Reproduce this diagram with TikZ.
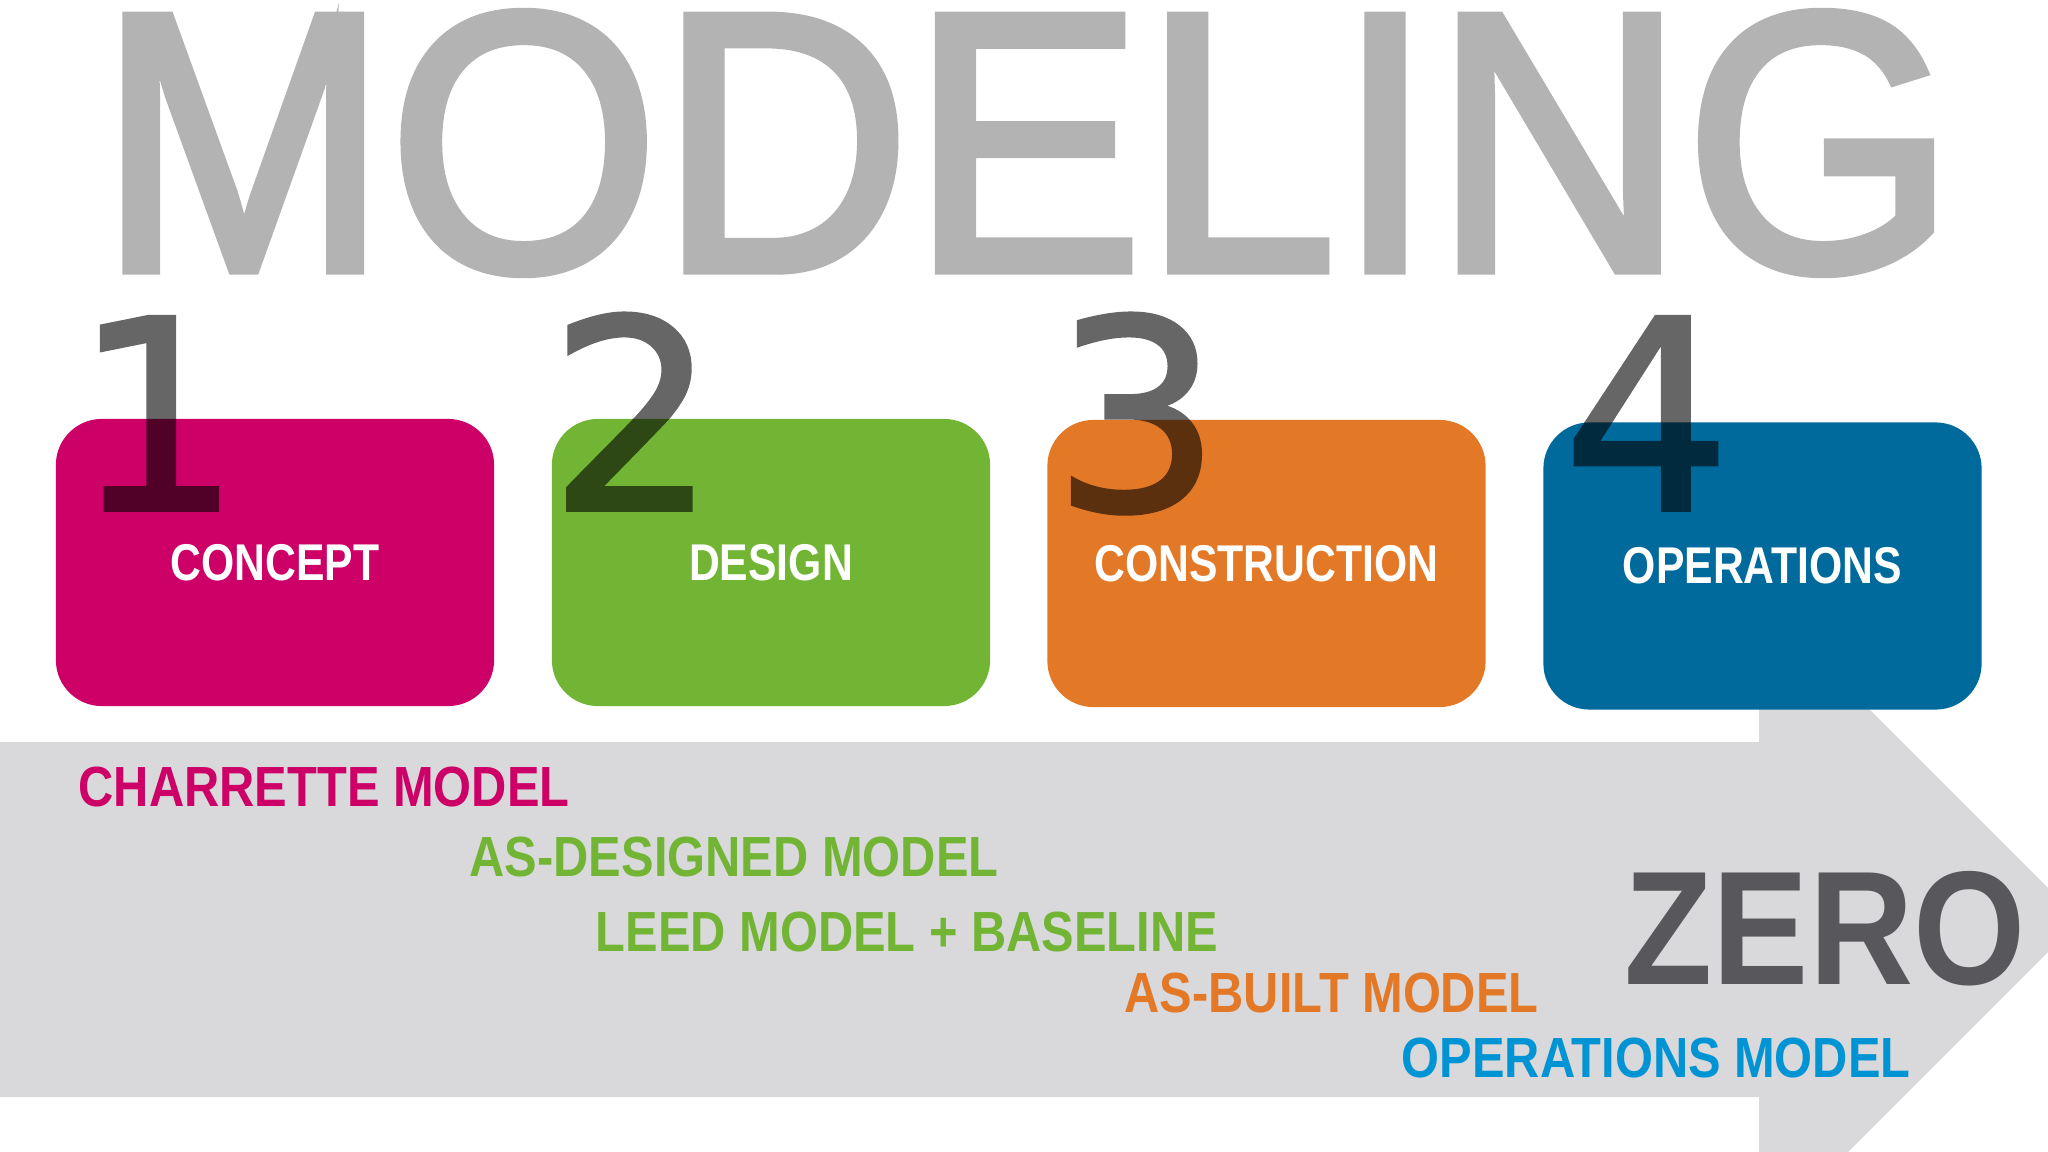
\documentclass[tikz,border=0pt]{standalone}
\usepackage{fontspec}
\setmainfont{Liberation Sans}
\newfontfamily\titlefont[FakeBold=2.5]{Liberation Sans}
\newfontfamily\digitfont[FakeBold=1.5]{DejaVu Sans}
\usepackage{graphicx}
\usepackage{tikz}

\definecolor{titlegrey}{HTML}{B3B3B3}
\definecolor{arrowgrey}{HTML}{D9D9DB}
\definecolor{zerogrey}{HTML}{58575B}
\definecolor{conceptcol}{HTML}{CC0066}
\definecolor{designcol}{HTML}{72B535}
\definecolor{buildcol}{HTML}{E37826}
\definecolor{operatecol}{HTML}{006A9C}
\definecolor{modelblue}{HTML}{0094D4}

\tikzset{
  stage/.style={rounded corners=0.46cm, minimum width=4.38cm, minimum height=2.87cm,
    inner sep=0pt, text=white, font=\bfseries\fontsize{14.7}{16}\selectfont},
  phase/.style={anchor=base, inner sep=0pt, text=black,
    font=\digitfont\fontsize{75.3}{80}\selectfont},
  model/.style={anchor=base west, inner sep=0pt, font=\bfseries\fontsize{16.1}{18}\selectfont},
}
\newcommand{\narrow}[2]{\scalebox{#1}[1]{#2}}

\begin{document}
\begin{tikzpicture}[x=0.01cm,y=-0.01cm]
  \useasboundingbox (0,0) rectangle (2048,1152);
  \clip (0,0) rectangle (2048,1152);
  \fill[white] (0,0) rectangle (2048,1152);

  % the big arrow
  \fill[arrowgrey] (0,742) -- (1759,742) -- (1759,599) -- (2080,920)
    -- (1759,1241) -- (1759,1097) -- (0,1097) -- cycle;

  \node[anchor=base, inner sep=0pt, text=titlegrey, font=\titlefont\fontsize{104.9}{110}\selectfont]
    (title) at (1027,270) {\narrow{0.944}{MODELING}};

  \node[stage, fill=conceptcol] (concept) at (275,562.5) {\narrow{0.826}{CONCEPT}};
  \node[stage, fill=designcol] (design) at (771,562.5) {\narrow{0.826}{DESIGN}};
  \node[stage, fill=buildcol] (construction) at (1266.5,563.5) {\narrow{0.826}{CONSTRUCTION}};
  \node[stage, fill=operatecol] (operations) at (1762.5,566) {\narrow{0.826}{OPERATIONS}};

  \begin{scope}[transparency group, opacity=0.6]
    \node[phase] (one) at (157,510) {1};
    \node[phase] (two) at (633,510) {2};
    \node[phase] (three) at (1137,510) {3};
    \node[phase] (four) at (1647,510) {4};
  \end{scope}

  \node[model, text=conceptcol] (charrette) at (78,806) {\narrow{0.862}{CHARRETTE MODEL}};
  \node[model, text=designcol] (asdesigned) at (469,876) {\narrow{0.862}{AS-DESIGNED MODEL}};
  \node[model, text=designcol] (leed) at (595,951) {\narrow{0.862}{LEED MODEL + BASELINE}};
  \node[model, text=buildcol] (asbuilt) at (1124,1012) {\narrow{0.862}{AS-BUILT MODEL}};
  \node[model, text=modelblue] (opmodel) at (1401,1077) {\narrow{0.862}{OPERATIONS MODEL}};

  \node[anchor=base west, inner sep=0pt, text=zerogrey, font=\bfseries\fontsize{46.1}{50}\selectfont]
    (zero) at (1624,984) {\narrow{0.89}{ZERO}};
\end{tikzpicture}
\end{document}
